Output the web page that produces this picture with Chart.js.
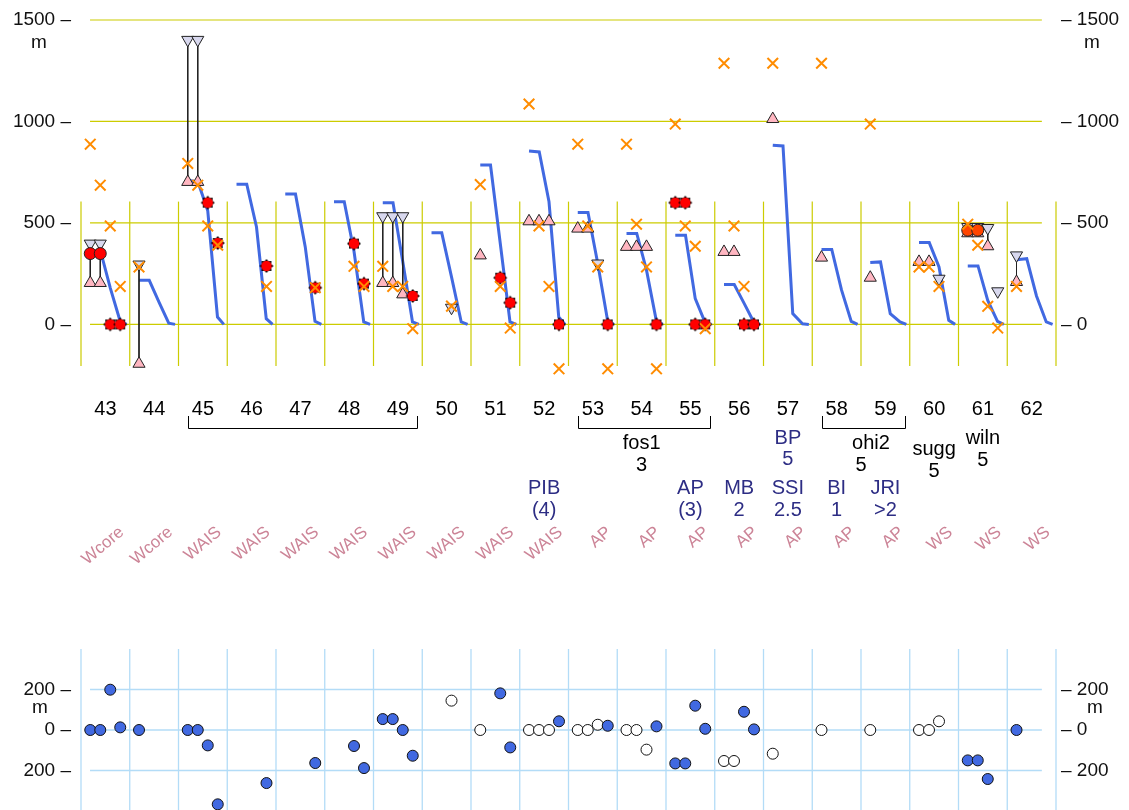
<!DOCTYPE html>
<html lang="en">
<head>
  <meta charset="UTF-8">
  <title>Site profiles</title>
  <script src="https://cdn.jsdelivr.net/npm/chart.js"></script>
  <style>
    body { margin: 0; background: #fff; }
    #wrap { position: relative; width: 1129px; height: 810px; overflow: hidden; }
    #topChart { position: absolute; left: 0; top: 0; }
    #botChart { position: absolute; left: 0; top: 600px; }
  </style>
</head>
<body>
<div id="wrap">
  <canvas id="topChart" width="1129" height="600"></canvas>
  <canvas id="botChart" width="1129" height="210"></canvas>
</div>
<script>
  // ---- data ----
  const columns = [43, 44, 45, 46, 47, 48, 49, 50, 51, 52, 53, 54, 55, 56, 57, 58, 59, 60, 61, 62];
  const sites = ['Wcore', 'Wcore', 'WAIS', 'WAIS', 'WAIS', 'WAIS', 'WAIS', 'WAIS', 'WAIS', 'WAIS',
                 'AP', 'AP', 'AP', 'AP', 'AP', 'AP', 'AP', 'WS', 'WS', 'WS'];
  const topTicks = [0, 500, 1000, 1500];
  const bottomTicks = [-200, 0, 200];

  // blue profile per column (m), five steps across the column
  const profiles = [
    [362, 362, 180, 18, 0], [217, 217, 110, 6, 0], [710, 702, 560, 36, 0], [691, 691, 480, 28, 0],
    [642, 642, 382, 15, 0], [604, 604, 360, 12, 0], [599, 599, 310, 12, 0], [451, 451, 234, 12, 0],
    [785, 785, 400, 12, 0], [854, 850, 604, 36, 0], [551, 551, 300, 22, 0], [448, 448, 267, 20, 0],
    [439, 439, 127, 10, 0], [196, 196, 105, 12, 0], [883, 879, 53, 3, 0], [369, 369, 170, 15, 0],
    [305, 308, 53, 12, 0], [403, 403, 283, 20, 0], [288, 288, 118, 15, 0], [319, 324, 140, 12, 0]
  ];

  // markers: [column, slot, metres]
  const crosses = [
    [43, 0, 888], [43, 1, 686], [43, 2, 485], [43, 3, 187], [44, 0, 283],
    [45, 0, 793], [45, 1, 686], [45, 2, 485], [45, 3, 390], [46, 3, 187], [47, 3, 181],
    [48, 2, 286], [48, 3, 187], [49, 0, 286], [49, 1, 187], [49, 2, 187], [49, 3, -21],
    [50, 2, 90], [51, 0, 689], [51, 2, 187], [51, 3, -18],
    [52, 0, 1086], [52, 1, 485], [52, 2, 187], [52, 3, -219],
    [53, 0, 888], [53, 1, 485], [53, 2, 283], [53, 3, -219],
    [54, 0, 888], [54, 1, 494], [54, 2, 283], [54, 3, -219],
    [55, 0, 987], [55, 1, 485], [55, 2, 385], [55, 3, -21],
    [56, 0, 1287], [56, 1, 485], [56, 2, 187], [57, 0, 1287], [58, 0, 1287], [59, 0, 987],
    [60, 0, 283], [60, 1, 283], [60, 2, 187], [61, 0, 494], [61, 1, 390], [61, 2, 89], [61, 3, -18],
    [62, 0, 187]
  ];
  const upTriangles = [
    [43, 0, 204], [43, 1, 204], [44, 0, -194], [45, 0, 702], [45, 1, 702],
    [49, 0, 204], [49, 1, 204], [49, 2, 148], [51, 0, 340], [52, 0, 508], [52, 1, 508], [52, 2, 508],
    [53, 0, 472], [53, 1, 472], [54, 0, 382], [54, 1, 382], [54, 2, 382], [56, 0, 357], [56, 1, 357],
    [57, 0, 1012], [58, 0, 329], [59, 0, 230], [60, 0, 308], [60, 1, 308],
    [61, 0, 449], [61, 1, 449], [61, 2, 385], [62, 0, 209]
  ];
  const downTriangles = [
    [43, 0, 398], [43, 1, 398], [44, 0, 295], [45, 0, 1402], [45, 1, 1402],
    [49, 0, 533], [49, 1, 533], [49, 2, 533], [50, 2, 82], [53, 2, 300], [60, 2, 225],
    [61, 0, 480], [61, 1, 480], [61, 2, 475], [61, 3, 163], [62, 0, 340]
  ];
  const links = [
    [43, 0, 398, 204], [43, 1, 398, 204], [44, 0, 295, -194], [45, 0, 1402, 702], [45, 1, 1402, 702],
    [49, 0, 533, 204], [49, 1, 533, 204], [49, 2, 533, 148], [61, 2, 475, 385], [62, 0, 340, 209]
  ];
  const redStars = [
    [43, 2, 0], [43, 3, 0], [45, 2, 600], [45, 3, 401], [46, 3, 288], [47, 3, 181],
    [48, 2, 398], [48, 3, 201], [49, 3, 140], [51, 2, 230], [51, 3, 107], [52, 3, 0], [53, 3, 0],
    [54, 3, 0], [55, 0, 600], [55, 1, 600], [55, 2, 0], [55, 3, 0], [56, 2, 0], [56, 3, 0]
  ];
  const redDots = [[43, 0, 349], [43, 1, 349]];
  const orangeDots = [[61, 0, 464], [61, 1, 464]];

  // lower panel: offsets (m)
  const offsetFilled = [
    [43, 0, 0], [43, 1, 0], [43, 2, 199], [43, 3, 13], [44, 0, 0],
    [45, 0, 0], [45, 1, 0], [45, 2, -76], [45, 3, -367], [46, 3, -262], [47, 3, -163],
    [48, 2, -79], [48, 3, -188], [49, 0, 54], [49, 1, 54], [49, 2, 0], [49, 3, -127],
    [51, 2, 181], [51, 3, -86], [52, 3, 43], [53, 3, 21], [54, 3, 18],
    [55, 0, -165], [55, 1, -165], [55, 2, 120], [55, 3, 6], [56, 2, 90], [56, 3, 3],
    [61, 0, -150], [61, 1, -150], [61, 2, -242], [62, 0, 0]
  ];
  const offsetOpen = [
    [50, 2, 145], [51, 0, 0], [52, 0, 0], [52, 1, 0], [52, 2, 0], [53, 0, 0], [53, 1, 0], [53, 2, 26],
    [54, 0, 0], [54, 1, 0], [54, 2, -97], [56, 0, -153], [56, 1, -153], [57, 0, -117],
    [58, 0, 0], [59, 0, 0], [60, 0, 0], [60, 1, 0], [60, 2, 43]
  ];

  // labels under the axis
  const brackets = [[45, 49], [53, 55], [58, 59]];
  const groupNotes = [['fos1', '3'], ['ohi2', '5'], ['sugg', '5'], ['wiln', '5']];
  const coreNotes = [[57, 'BP', '5']];
  const areaNotes = [[52, 'PIB', '(4)'], [55, 'AP', '(3)'], [56, 'MB', '2'], [57, 'SSI', '2.5'], [58, 'BI', '1'], [59, 'JRI', '>2']];

  // ---- helpers ----
  const slotFrac = [0.19, 0.395, 0.6, 0.805];
  const profileFrac = [0.19, 0.4, 0.6, 0.8, 0.93];
  const FONT = '"Liberation Sans", Arial, Helvetica, sans-serif';
  const NAVY = '#2d2d84';

  function pt(m) {
    return { x: columns.indexOf(m[0]) + slotFrac[m[1]], y: m[2] };
  }

  function starDot() {
    const c = document.createElement('canvas');
    c.width = 16; c.height = 16;
    const g = c.getContext('2d');
    g.translate(8, 8);
    g.fillStyle = '#000';
    g.beginPath();
    for (let i = 0; i < 16; i++) {
      const r = i % 2 ? 5.2 : 7;
      const a = i * Math.PI / 8;
      g.lineTo(r * Math.cos(a), r * Math.sin(a));
    }
    g.closePath();
    g.fill();
    g.fillStyle = '#ff0000';
    g.beginPath();
    g.arc(0, 0, 5.3, 0, Math.PI * 2);
    g.fill();
    return c;
  }

  function text(ctx, s, x, y, color, size, align) {
    ctx.fillStyle = color;
    ctx.font = size + 'px ' + FONT;
    ctx.textAlign = align || 'center';
    ctx.textBaseline = 'middle';
    ctx.fillText(s, x, y);
  }

  // ---- top panel ----
  const topGuides = {
    id: 'topGuides',
    beforeDatasetsDraw(chart) {
      const { ctx, scales: { x, y } } = chart;
      ctx.save();
      ctx.strokeStyle = '#cccc00';
      ctx.lineWidth = 1.2;
      topTicks.forEach(v => {
        const py = y.getPixelForValue(v);
        ctx.beginPath();
        ctx.moveTo(x.getPixelForValue(0.185), py);
        ctx.lineTo(x.getPixelForValue(19.71), py);
        ctx.stroke();
      });
      for (let i = 0; i <= columns.length; i++) {
        const px = x.getPixelForValue(i);
        ctx.beginPath();
        ctx.moveTo(px, y.getPixelForValue(605));
        ctx.lineTo(px, y.getPixelForValue(-205));
        ctx.stroke();
      }
      ctx.restore();
    },
    afterDraw(chart) {
      const { ctx, scales: { x, y } } = chart;
      ctx.save();
      // axis labels both sides
      topTicks.forEach(v => {
        const py = y.getPixelForValue(v);
        text(ctx, v + ' \u2013', 71, py, '#111', 19, 'right');
        text(ctx, '\u2013 ' + v, 1061, py, '#111', 19, 'left');
      });
      const top = y.getPixelForValue(1500);
      text(ctx, 'm', 39, top + 23, '#111', 19);
      text(ctx, 'm', 1092, top + 23, '#111', 19);

      // column numbers
      columns.forEach((c, i) => text(ctx, String(c), x.getPixelForValue(i + 0.5), 409, '#000', 20));

      // brackets
      ctx.strokeStyle = '#000';
      ctx.lineWidth = 1;
      brackets.forEach(b => {
        const x0 = Math.round(x.getPixelForValue(columns.indexOf(b[0]) + 0.2)) + 0.5;
        const x1 = Math.round(x.getPixelForValue(columns.indexOf(b[1]) + 0.9)) + 0.5;
        ctx.beginPath();
        ctx.moveTo(x0, 416); ctx.lineTo(x0, 428.5); ctx.lineTo(x1, 428.5); ctx.lineTo(x1, 416);
        ctx.stroke();
      });

      // group notes
      const gx = [x.getPixelForValue(11.5), 871, x.getPixelForValue(17.5), x.getPixelForValue(18.5)];
      const gx2 = [x.getPixelForValue(11.5), x.getPixelForValue(16), x.getPixelForValue(17.5), x.getPixelForValue(18.5)];
      const gy = [443, 443, 449, 438];
      groupNotes.forEach((g, i) => {
        text(ctx, g[0], gx[i], gy[i], '#000', 20);
        text(ctx, g[1], gx2[i], gy[i] + 22, '#000', 20);
      });
      coreNotes.forEach(n => {
        const px = x.getPixelForValue(columns.indexOf(n[0]) + 0.5);
        text(ctx, n[1], px, 438, NAVY, 20);
        text(ctx, n[2], px, 459, NAVY, 20);
      });
      areaNotes.forEach(n => {
        const px = x.getPixelForValue(columns.indexOf(n[0]) + 0.5);
        text(ctx, n[1], px, 488, NAVY, 20);
        text(ctx, n[2], px, 510, NAVY, 20);
      });

      // rotated site names
      sites.forEach((s, i) => {
        ctx.save();
        ctx.translate(x.getPixelForValue(i + 1) - 8, 530);
        ctx.rotate(-40 * Math.PI / 180);
        text(ctx, s, 0, 0, '#cc8497', 17, 'right');
        ctx.restore();
      });
      ctx.restore();
    }
  };

  const datasets = [];
  datasets.push({ data: crosses.map(pt), pointStyle: 'crossRot', pointRadius: 7.5, borderColor: '#ff8c00', pointBorderWidth: 2, order: 0 });
  datasets.push({ data: orangeDots.map(pt), pointStyle: 'circle', pointRadius: 6, backgroundColor: '#ff4500', borderColor: '#222', pointBorderWidth: 1, order: 1 });
  datasets.push({ data: redStars.map(pt), pointStyle: starDot(), order: 2 });
  datasets.push({ data: redDots.map(pt), pointStyle: 'circle', pointRadius: 6, backgroundColor: '#ff0000', borderColor: '#222', pointBorderWidth: 1, order: 3 });
  datasets.push({ data: downTriangles.map(pt), pointStyle: 'triangle', rotation: 180, pointRadius: 7, backgroundColor: '#d8d8ee', borderColor: '#222', pointBorderWidth: 1, order: 4 });
  datasets.push({ data: upTriangles.map(pt), pointStyle: 'triangle', pointRadius: 7, backgroundColor: '#ffb6c1', borderColor: '#222', pointBorderWidth: 1, order: 5 });
  links.forEach(l => {
    const a = pt([l[0], l[1], l[2]]), b = pt([l[0], l[1], l[3]]);
    datasets.push({ data: [a, b], showLine: true, pointRadius: 0, borderColor: '#222', borderWidth: 1, order: 6 });
  });
  profiles.forEach((p, i) => {
    datasets.push({
      data: p.map((v, j) => ({ x: i + profileFrac[j], y: v })),
      showLine: true, pointRadius: 0, borderColor: '#4169e1', borderWidth: 3, order: 7
    });
  });
  datasets.forEach(d => { d.clip = false; });

  new Chart(document.getElementById('topChart'), {
    type: 'scatter',
    data: { datasets: datasets },
    options: {
      responsive: false,
      animation: false,
      layout: { autoPadding: false, padding: { left: 81, right: 73, top: 20, bottom: 233 } },
      scales: {
        x: { type: 'linear', min: 0, max: 20, display: false },
        y: { type: 'linear', min: -210, max: 1500, display: false }
      },
      plugins: { legend: { display: false }, tooltip: { enabled: false } }
    },
    plugins: [topGuides]
  });

  // ---- bottom panel ----
  const bottomGuides = {
    id: 'bottomGuides',
    beforeDatasetsDraw(chart) {
      const { ctx, scales: { x, y } } = chart;
      ctx.save();
      ctx.strokeStyle = '#b3dcf7';
      ctx.lineWidth = 1.3;
      bottomTicks.forEach(v => {
        const py = y.getPixelForValue(v);
        ctx.beginPath();
        ctx.moveTo(x.getPixelForValue(0.185), py);
        ctx.lineTo(x.getPixelForValue(19.71), py);
        ctx.stroke();
      });
      for (let i = 0; i <= columns.length; i++) {
        const px = x.getPixelForValue(i);
        ctx.beginPath();
        ctx.moveTo(px, y.getPixelForValue(400));
        ctx.lineTo(px, y.getPixelForValue(-400));
        ctx.stroke();
      }
      ctx.restore();
    },
    afterDraw(chart) {
      const { ctx, scales: { y } } = chart;
      ctx.save();
      bottomTicks.forEach(v => {
        const py = y.getPixelForValue(v);
        text(ctx, Math.abs(v) + ' \u2013', 71, py, '#111', 19, 'right');
        text(ctx, '\u2013 ' + Math.abs(v), 1061, py, '#111', 19, 'left');
      });
      const py = y.getPixelForValue(200);
      text(ctx, 'm', 40, py + 18, '#111', 19);
      text(ctx, 'm', 1095, py + 18, '#111', 19);
      ctx.restore();
    }
  };

  new Chart(document.getElementById('botChart'), {
    type: 'scatter',
    data: {
      datasets: [
        { data: offsetFilled.map(pt), pointStyle: 'circle', pointRadius: 5.5, backgroundColor: '#4169e1', borderColor: '#111', pointBorderWidth: 1, clip: false },
        { data: offsetOpen.map(pt), pointStyle: 'circle', pointRadius: 5.5, backgroundColor: '#ffffff', borderColor: '#111', pointBorderWidth: 1, clip: false }
      ]
    },
    options: {
      responsive: false,
      animation: false,
      layout: { autoPadding: false, padding: { left: 81, right: 73, top: 49, bottom: 0 } },
      scales: {
        x: { type: 'linear', min: 0, max: 20, display: false },
        y: { type: 'linear', min: -395, max: 400, display: false }
      },
      plugins: { legend: { display: false }, tooltip: { enabled: false } }
    },
    plugins: [bottomGuides]
  });
</script>
</body>
</html>
